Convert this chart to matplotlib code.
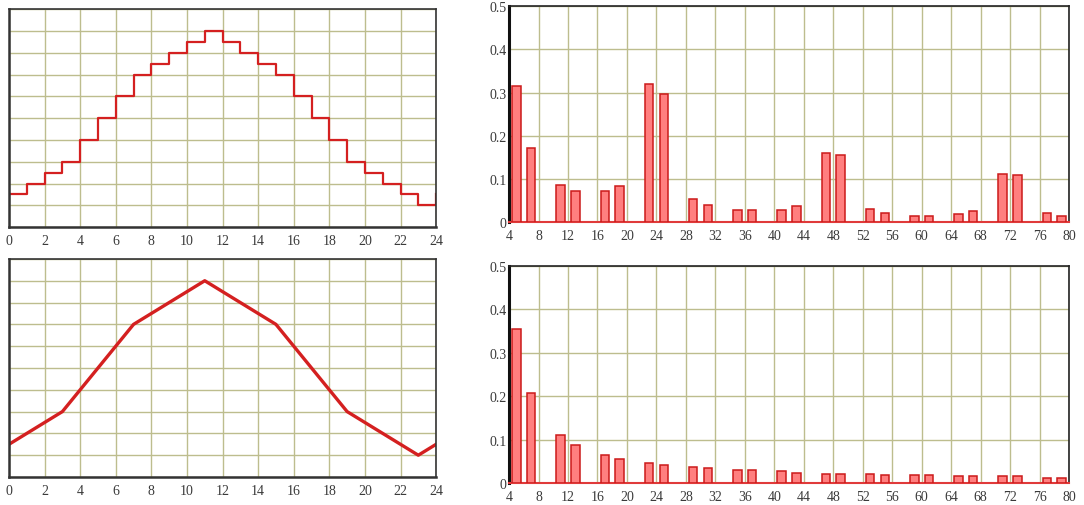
import matplotlib.pyplot as plt
import numpy as np

# --- dati ---
hours = list(range(25))
step_vals = [1.5, 2, 2.5, 3, 4, 5, 6, 7, 7.5, 8, 8.5, 9,
             8.5, 8, 7.5, 7, 6, 5, 4, 3, 2.5, 2, 1.5, 1, 1.5]

line_x = [0, 3, 7, 11, 15, 19, 23, 24]
line_y = [1.5, 3, 7, 9, 7, 3, 1, 1.5]

harmonics = [5, 7, 11, 13, 17, 19, 23, 25, 29, 31, 35, 37, 41, 43,
             47, 49, 53, 55, 59, 61, 65, 67, 71, 73, 77, 79]
spec_step = [0.315, 0.171, 0.087, 0.073, 0.071, 0.084, 0.320, 0.296,
             0.054, 0.040, 0.027, 0.027, 0.029, 0.038, 0.160, 0.156,
             0.030, 0.022, 0.015, 0.015, 0.019, 0.025, 0.111, 0.109,
             0.022, 0.015]
spec_line = [0.354, 0.208, 0.111, 0.088, 0.064, 0.055, 0.045, 0.042,
             0.037, 0.034, 0.029, 0.029, 0.027, 0.023, 0.020, 0.020,
             0.020, 0.018, 0.018, 0.018, 0.015, 0.015, 0.015, 0.015,
             0.012, 0.012]

GRID = '#bdbd8e'
TXT = '#3a3a3a'
RED = '#d42020'

plt.rcParams['font.family'] = ['Liberation Serif', 'DejaVu Serif']

fig = plt.figure(figsize=(10.84, 5.06), dpi=100)

ax_tl = fig.add_axes([0.0083, 0.549, 0.394, 0.431])
ax_bl = fig.add_axes([0.0083, 0.0553, 0.394, 0.431])
ax_tr = fig.add_axes([0.4696, 0.559, 0.5166, 0.427])
ax_br = fig.add_axes([0.4696, 0.0435, 0.5166, 0.429])


def stile_sinistra(ax):
    ax.set_xlim(0, 24)
    ax.set_ylim(0, 10)
    ax.set_xticks(range(0, 25, 2))
    ax.set_yticks(range(0, 11))
    ax.set_yticklabels([])
    ax.grid(True, color=GRID, linewidth=1.0)
    ax.set_axisbelow(True)
    ax.tick_params(length=0, labelsize=10, colors=TXT, pad=5)
    for s in ax.spines.values():
        s.set_color('#333333')
        s.set_linewidth(1.2)
    ax.spines['left'].set_linewidth(1.8)
    ax.spines['bottom'].set_linewidth(1.8)


def stile_destra(ax):
    ax.set_xlim(4, 80)
    ax.set_ylim(0, 0.5)
    ax.set_xticks(range(4, 81, 4))
    ax.set_yticks([0, 0.1, 0.2, 0.3, 0.4, 0.5])
    ax.set_yticklabels(['0', '0.1', '0.2', '0.3', '0.4', '0.5'])
    ax.grid(True, color=GRID, linewidth=1.0)
    ax.set_axisbelow(True)
    ax.tick_params(length=0, labelsize=10, colors=TXT)
    ax.tick_params(axis='x', pad=5)
    ax.tick_params(axis='y', pad=2)
    for s in ax.spines.values():
        s.set_color('#222222')
        s.set_linewidth(1.2)
    ax.spines['left'].set_linewidth(2.2)
    ax.spines['left'].set_color('#111111')
    ax.spines['bottom'].set_color('#e03a3a')
    ax.spines['bottom'].set_linewidth(1.5)


# --- grafici ---
ax_tl.step(hours, step_vals, where='post', color=RED, linewidth=1.6)
stile_sinistra(ax_tl)

ax_bl.plot(line_x, line_y, color=RED, linewidth=2.4)
stile_sinistra(ax_bl)

ax_tr.bar(harmonics, spec_step, width=1.15, color='#ff7f7f',
          edgecolor='#cc1a1a', linewidth=1.1, zorder=3)
stile_destra(ax_tr)

ax_br.bar(harmonics, spec_line, width=1.15, color='#ff7f7f',
          edgecolor='#cc1a1a', linewidth=1.1, zorder=3)
stile_destra(ax_br)

plt.savefig('out.png', dpi=100)
